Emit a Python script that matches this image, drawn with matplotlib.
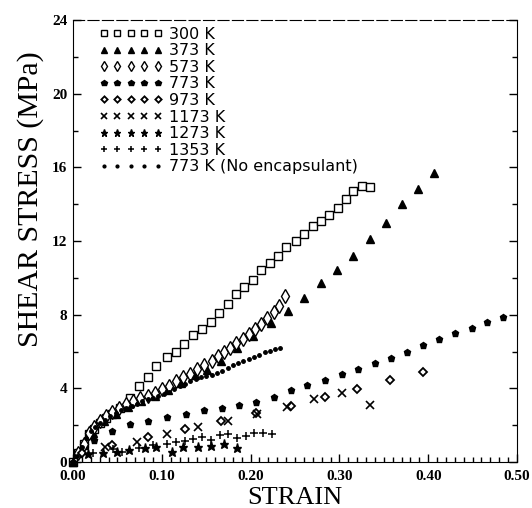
import matplotlib
matplotlib.use('Agg')
from matplotlib import pyplot as plt
from matplotlib.ticker import MultipleLocator, FormatStrFormatter

# 300 K
strain_300 = [0.0, 0.006, 0.012, 0.018, 0.024, 0.030, 0.037, 0.044, 0.053, 0.064,
              0.074, 0.084, 0.094, 0.106, 0.116, 0.125, 0.135, 0.145, 0.155, 0.164,
              0.174, 0.184, 0.193, 0.203, 0.212, 0.222, 0.231, 0.240, 0.251, 0.260,
              0.270, 0.279, 0.288, 0.298, 0.307, 0.315, 0.325, 0.334]
stress_300 = [0.0, 0.5, 1.0, 1.5, 1.8, 2.1, 2.4, 2.6, 2.95, 3.5,
              4.1, 4.6, 5.2, 5.7, 6.0, 6.4, 6.9, 7.2, 7.6, 8.1,
              8.6, 9.1, 9.5, 9.9, 10.4, 10.8, 11.2, 11.7, 12.0, 12.4,
              12.8, 13.1, 13.4, 13.8, 14.3, 14.7, 15.0, 14.95]

# 373 K
strain_373 = [0.0, 0.012, 0.022, 0.035, 0.048, 0.062, 0.077, 0.092, 0.107, 0.122,
              0.137, 0.151, 0.167, 0.185, 0.203, 0.223, 0.242, 0.260, 0.279, 0.297,
              0.315, 0.334, 0.352, 0.370, 0.389, 0.407]
stress_373 = [0.0, 0.9, 1.6, 2.2, 2.6, 3.0, 3.3, 3.6, 3.9, 4.3,
              4.7, 5.0, 5.5, 6.2, 6.85, 7.55, 8.2, 8.9, 9.7, 10.4,
              11.2, 12.1, 13.0, 14.0, 14.8, 15.7]

# 573 K
strain_573 = [0.006, 0.012, 0.018, 0.024, 0.030, 0.037, 0.044, 0.052, 0.060, 0.068,
              0.076, 0.084, 0.092, 0.100, 0.108, 0.116, 0.124, 0.132, 0.140, 0.148,
              0.156, 0.163, 0.170, 0.177, 0.184, 0.191, 0.198, 0.205, 0.212, 0.219,
              0.226, 0.232, 0.239]
stress_573 = [0.5, 1.0, 1.6, 1.9, 2.2, 2.5, 2.7, 2.95, 3.15, 3.3,
              3.45, 3.6, 3.75, 3.95, 4.15, 4.4, 4.6, 4.8, 5.05, 5.25,
              5.5, 5.75, 6.0, 6.2, 6.45, 6.7, 6.95, 7.2, 7.5, 7.8,
              8.15, 8.45, 9.0]

# 773 K
strain_773 = [0.0, 0.024, 0.044, 0.064, 0.085, 0.106, 0.127, 0.148, 0.168, 0.187,
              0.206, 0.226, 0.245, 0.263, 0.284, 0.303, 0.321, 0.340, 0.358, 0.376,
              0.394, 0.412, 0.430, 0.449, 0.466, 0.484]
stress_773 = [0.0, 1.2, 1.7, 2.05, 2.2, 2.45, 2.6, 2.8, 2.95, 3.1,
              3.25, 3.55, 3.9, 4.2, 4.45, 4.8, 5.05, 5.4, 5.65, 6.0,
              6.35, 6.7, 7.0, 7.3, 7.6, 7.9]

# 973 K
strain_973 = [0.010, 0.044, 0.085, 0.126, 0.167, 0.206, 0.245, 0.284, 0.320, 0.357, 0.394]
stress_973 = [0.5, 0.95, 1.35, 1.8, 2.2, 2.65, 3.05, 3.55, 3.95, 4.45, 4.9]

# 1173 K
strain_1173 = [0.036, 0.072, 0.106, 0.141, 0.175, 0.207, 0.241, 0.271, 0.303, 0.334]
stress_1173 = [0.8, 1.1, 1.5, 1.9, 2.25, 2.6, 3.0, 3.4, 3.75, 3.1]

# 1273 K
strain_1273 = [0.017, 0.034, 0.050, 0.063, 0.081, 0.094, 0.111, 0.124, 0.141, 0.155, 0.170, 0.185]
stress_1273 = [0.45, 0.5, 0.55, 0.65, 0.75, 0.8, 0.55, 0.8, 0.8, 0.85, 0.98, 0.75]

# 1353 K
strain_1353 = [0.023, 0.045, 0.055, 0.074, 0.090, 0.106, 0.116, 0.126, 0.135, 0.145,
               0.155, 0.165, 0.175, 0.185, 0.195, 0.204, 0.214, 0.224]
stress_1353 = [0.5, 0.7, 0.55, 0.75, 0.9, 1.0, 1.1, 1.15, 1.25, 1.36,
               1.2, 1.47, 1.5, 1.3, 1.4, 1.55, 1.55, 1.5]

# 773 K, no encapsulant
strain_ne = [0.0, 0.005, 0.010, 0.015, 0.020, 0.025, 0.030, 0.036, 0.042, 0.048,
             0.054, 0.060, 0.066, 0.072, 0.078, 0.084, 0.090, 0.096, 0.102, 0.108,
             0.114, 0.120, 0.126, 0.132, 0.138, 0.144, 0.150, 0.156, 0.162, 0.168,
             0.174, 0.180, 0.186, 0.192, 0.198, 0.204, 0.210, 0.216, 0.222, 0.228, 0.233]
stress_ne = [0.0, 0.3, 0.8, 1.3, 1.7, 1.9, 2.1, 2.3, 2.5, 2.65,
             2.8, 2.95, 3.05, 3.15, 3.3, 3.4, 3.5, 3.6, 3.7, 3.8,
             3.95, 4.1, 4.25, 4.4, 4.5, 4.6, 4.65, 4.75, 4.85, 4.95,
             5.1, 5.25, 5.35, 5.5, 5.6, 5.7, 5.8, 5.95, 6.05, 6.15, 6.2]

labels = ['300 K', '373 K', '573 K', '773 K', '973 K', '1173 K', '1273 K',
          '1353 K', '773 K (No encapsulant)']

serif = ['Liberation Serif', 'DejaVu Serif']

fig = plt.figure(figsize=(5.32, 5.08), dpi=100)
ax = fig.add_axes([73 / 532, 46 / 508, 444 / 532, 442 / 508])

common = dict(ls='none', color='black', clip_on=False)
ax.plot(strain_300, stress_300, marker='s', ms=5.5, mfc='white', mew=1.0, label=labels[0], **common)
ax.plot(strain_373, stress_373, marker='^', ms=6, label=labels[1], **common)
ax.plot(strain_573, stress_573, marker='d', ms=7, mfc='white', mew=1.0, label=labels[2], **common)
ax.plot(strain_773, stress_773, marker='p', ms=5, label=labels[3], **common)
ax.plot(strain_973, stress_973, marker='D', ms=4, mfc='white', mew=1.3, label=labels[4], **common)
ax.plot(strain_1173, stress_1173, marker='x', ms=5.5, mew=1.2, label=labels[5], **common)
ax.plot(strain_1273, stress_1273, marker='*', ms=6.5, label=labels[6], **common)
ax.plot(strain_1353, stress_1353, marker='+', ms=5.5, mew=1.1, label=labels[7], **common)
ax.plot(strain_ne, stress_ne, marker='o', ms=2.5, label=labels[8], **common)

ax.set_xlim(0, 0.5)
ax.set_ylim(0, 24)
ax.xaxis.set_major_locator(MultipleLocator(0.1))
ax.xaxis.set_minor_locator(MultipleLocator(0.01))
ax.xaxis.set_major_formatter(FormatStrFormatter('%.2f'))
ax.yaxis.set_major_locator(MultipleLocator(4))
ax.yaxis.set_minor_locator(MultipleLocator(2))
ax.tick_params(which='both', direction='in', right=True, width=1.0, pad=4)
ax.tick_params(axis='x', which='major', pad=5.5)
ax.tick_params(which='major', length=6)
ax.tick_params(which='minor', length=3.5)
for lab in ax.get_xticklabels() + ax.get_yticklabels():
    lab.set_family(serif)
    lab.set_fontweight('bold')
    lab.set_fontsize(11)
ax.spines['top'].set_linestyle((0, (10, 3)))
ax.spines['top'].set_linewidth(0.8)

fig.text(31 / 532, 1 - 199 / 508, 'SHEAR STRESS (MPa)', rotation=90,
         ha='center', va='center', family=serif, fontsize=21.5)
fig.text(295 / 532, 4 / 508, 'STRAIN', ha='center', va='baseline',
         family=serif, fontsize=19)

ax.legend(loc='upper left', bbox_to_anchor=(0.058, 0.985), frameon=False,
          numpoints=5, handlelength=4.0, handletextpad=0.4, labelspacing=0.1,
          borderpad=0, borderaxespad=0, markerscale=0.8,
          prop={'family': 'DejaVu Sans', 'size': 11.5})

fig.savefig('out.png', dpi=100)
